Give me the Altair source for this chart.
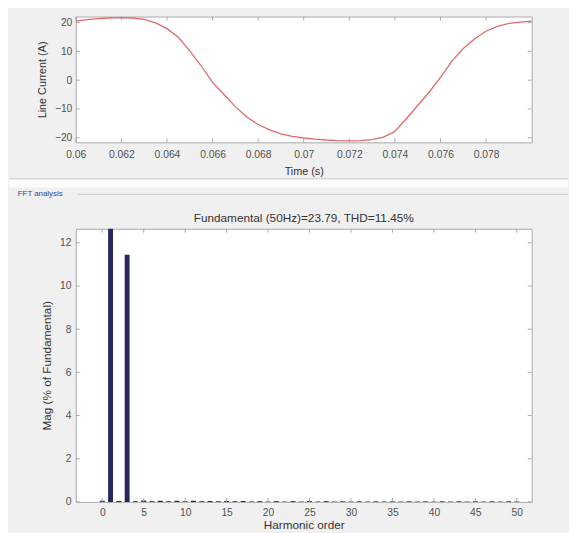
import altair as alt
import pandas as pd

# ---------------- data ----------------
time_s = [0.0600, 0.0605, 0.0610, 0.0615, 0.0620, 0.0625, 0.0630, 0.0635, 0.0640,
          0.0645, 0.0650, 0.0655, 0.0660, 0.0665, 0.0670, 0.0675, 0.0680, 0.0685,
          0.0690, 0.0695, 0.0700, 0.0705, 0.0710, 0.0715, 0.0720, 0.0725, 0.0730,
          0.0735, 0.0740, 0.0745, 0.0750, 0.0755, 0.0760, 0.0765, 0.0770, 0.0775,
          0.0780, 0.0785, 0.0790, 0.0795, 0.0800]
current_a = [20.5, 21.0, 21.4, 21.6, 21.7, 21.6, 21.1, 19.9, 17.9,
             14.9, 10.2, 5.0, -0.8, -5.0, -9.2, -12.8, -15.4, -17.3,
             -18.7, -19.5, -20.1, -20.5, -20.8, -21.0, -21.1, -21.0, -20.7,
             -19.8, -17.8, -13.4, -8.8, -4.2, 1.0, 6.6, 11.0, 14.4,
             17.0, 18.7, 19.7, 20.2, 20.5]

harmonic_order = list(range(0, 51))
mag_pct = [0.05, 100.0, 0.04, 11.45, 0.03, 0.06, 0.03, 0.05, 0.03, 0.05,
           0.03, 0.05, 0.03, 0.04, 0.03, 0.04, 0.03, 0.04, 0.02, 0.04,
           0.02, 0.04, 0.02, 0.04, 0.02, 0.04, 0.02, 0.04, 0.02, 0.03,
           0.02, 0.03, 0.02, 0.03, 0.02, 0.03, 0.02, 0.03, 0.02, 0.03,
           0.02, 0.03, 0.02, 0.03, 0.02, 0.03, 0.02, 0.03, 0.02, 0.03, 0.02]

top_x_ticks = [0.060, 0.062, 0.064, 0.066, 0.068, 0.070, 0.072, 0.074, 0.076, 0.078]
top_y_ticks = [-20, -10, 0, 10, 20]
fft_x_ticks = [0, 5, 10, 15, 20, 25, 30, 35, 40, 45, 50]
fft_y_ticks = [0, 2, 4, 6, 8, 10, 12]

top_title_x = "Time (s)"
top_title_y = "Line Current (A)"
fft_title = "Fundamental (50Hz)=23.79, THD=11.45%"
fft_title_x = "Harmonic order"
fft_title_y = "Mag (% of Fundamental)"
section_label = ["FFT analysis"]

# ---------------- style ----------------
FONT = "Liberation Sans"
W = 464
H1 = 128
H2 = 278
TL = 4
FRAME = "#a8a8a8"
LABEL = "#505050"

cur_df = pd.DataFrame({"t": time_s, "i": current_a})
fft_df = pd.DataFrame({"h": harmonic_order, "m": mag_pct})

# ---------------- top: waveform ----------------
xs1 = alt.Scale(domain=[0.06, 0.08], nice=False, zero=False)
ys1 = alt.Scale(domain=[-21.6, 22.1], nice=False, zero=False)
ax1 = alt.Axis(values=top_x_ticks, format=".3~f", title=top_title_x, labelPadding=7,
               titlePadding=6, labelOverlap=False, labelFlush=False)
ay1 = alt.Axis(values=top_y_ticks, format="d", title=top_title_y, labelPadding=4,
               titlePadding=7, labelOverlap=False, labelFlush=False)

line = alt.Chart(cur_df).mark_line(color="#e06a6a", strokeWidth=1.3, clip=True).encode(
    x=alt.X("t:Q", scale=xs1, axis=ax1),
    y=alt.Y("i:Q", scale=ys1, axis=ay1),
)
tx1 = pd.DataFrame({"t": top_x_ticks})
ty1 = pd.DataFrame({"i": top_y_ticks})
tick_b1 = alt.Chart(tx1).mark_rule(color=FRAME, strokeWidth=1).encode(
    x=alt.X("t:Q", scale=xs1, axis=ax1), y=alt.value(H1), y2=alt.value(H1 - TL))
tick_t1 = alt.Chart(tx1).mark_rule(color=FRAME, strokeWidth=1).encode(
    x=alt.X("t:Q", scale=xs1, axis=ax1), y=alt.value(0), y2=alt.value(TL))
tick_l1 = alt.Chart(ty1).mark_rule(color=FRAME, strokeWidth=1).encode(
    y=alt.Y("i:Q", scale=ys1, axis=ay1), x=alt.value(0), x2=alt.value(TL))
tick_r1 = alt.Chart(ty1).mark_rule(color=FRAME, strokeWidth=1).encode(
    y=alt.Y("i:Q", scale=ys1, axis=ay1), x=alt.value(W), x2=alt.value(W - TL))

top = alt.layer(line, tick_b1, tick_t1, tick_l1, tick_r1).properties(width=W, height=H1)

# ---------------- middle: section separator ----------------
lab_df = pd.DataFrame({"label": section_label})
band = alt.Chart(lab_df).mark_rect(color="#fbfbfb").encode(
    x=alt.value(-68), x2=alt.value(501), y=alt.value(2), y2=alt.value(10))
sep = alt.Chart(lab_df).mark_rule(color="#d0d0d0", strokeWidth=1).encode(
    x=alt.value(-68), x2=alt.value(501), y=alt.value(1))
grp = alt.Chart(lab_df).mark_rule(color="#c8c8c8", strokeWidth=1).encode(
    x=alt.value(2), x2=alt.value(501), y=alt.value(17))
lab = alt.Chart(lab_df).mark_text(font=FONT, fontSize=8, color="#3a3aa6", align="left",
                                  baseline="middle").encode(
    text="label:N", x=alt.value(-59), y=alt.value(17))
mid = alt.layer(band, sep, grp, lab).properties(
    width=W, height=34, view=alt.ViewBackground(fill="transparent", stroke="transparent"))

# ---------------- bottom: FFT bars ----------------
xs2 = alt.Scale(domain=[-2.6, 51.2], nice=False, zero=False)
ys2 = alt.Scale(domain=[0, 12.65], nice=False)
ax2 = alt.Axis(values=fft_x_ticks, format="d", title=fft_title_x, labelPadding=6,
               titlePadding=2, titleFontSize=12, labelOverlap=False, labelFlush=False)
ay2 = alt.Axis(values=fft_y_ticks, format="d", title=fft_title_y, labelPadding=5,
               titlePadding=6, titleFontSize=12, labelOverlap=False, labelFlush=False)

bars = alt.Chart(fft_df).mark_bar(size=5, color="#25285f", clip=True).encode(
    x=alt.X("h:Q", scale=xs2, axis=ax2),
    y=alt.Y("m:Q", scale=ys2, axis=ay2),
)
tx2 = pd.DataFrame({"h": fft_x_ticks})
ty2 = pd.DataFrame({"m": fft_y_ticks})
tick_b2 = alt.Chart(tx2).mark_rule(color=FRAME, strokeWidth=1).encode(
    x=alt.X("h:Q", scale=xs2, axis=ax2), y=alt.value(H2), y2=alt.value(H2 - TL))
tick_t2 = alt.Chart(tx2).mark_rule(color=FRAME, strokeWidth=1).encode(
    x=alt.X("h:Q", scale=xs2, axis=ax2), y=alt.value(0), y2=alt.value(TL))
tick_l2 = alt.Chart(ty2).mark_rule(color=FRAME, strokeWidth=1).encode(
    y=alt.Y("m:Q", scale=ys2, axis=ay2), x=alt.value(0), x2=alt.value(TL))
tick_r2 = alt.Chart(ty2).mark_rule(color=FRAME, strokeWidth=1).encode(
    y=alt.Y("m:Q", scale=ys2, axis=ay2), x=alt.value(W), x2=alt.value(W - TL))

bottom = alt.layer(bars, tick_b2, tick_t2, tick_l2, tick_r2).properties(
    width=W, height=H2,
    title=alt.TitleParams(text=fft_title, fontSize=12, font=FONT, color="#333333",
                          fontWeight="normal", offset=3, anchor="middle", frame="group"))

chart = alt.vconcat(top, mid, bottom, spacing=0).properties(
    background="#f0f0f0",
    padding={"left": 0, "top": 3, "right": 0, "bottom": 0},
).configure_view(
    fill="white", stroke=FRAME, strokeWidth=1
).configure_axis(
    grid=False, domain=False, ticks=False, tickSize=0,
    labelFont=FONT, labelFontSize=10.5, labelColor=LABEL,
    titleFont=FONT, titleFontSize=11, titleColor="#333333", titleFontWeight="normal",
)

chart.save("out.html", embed_options={"renderer": "svg", "actions": False})
